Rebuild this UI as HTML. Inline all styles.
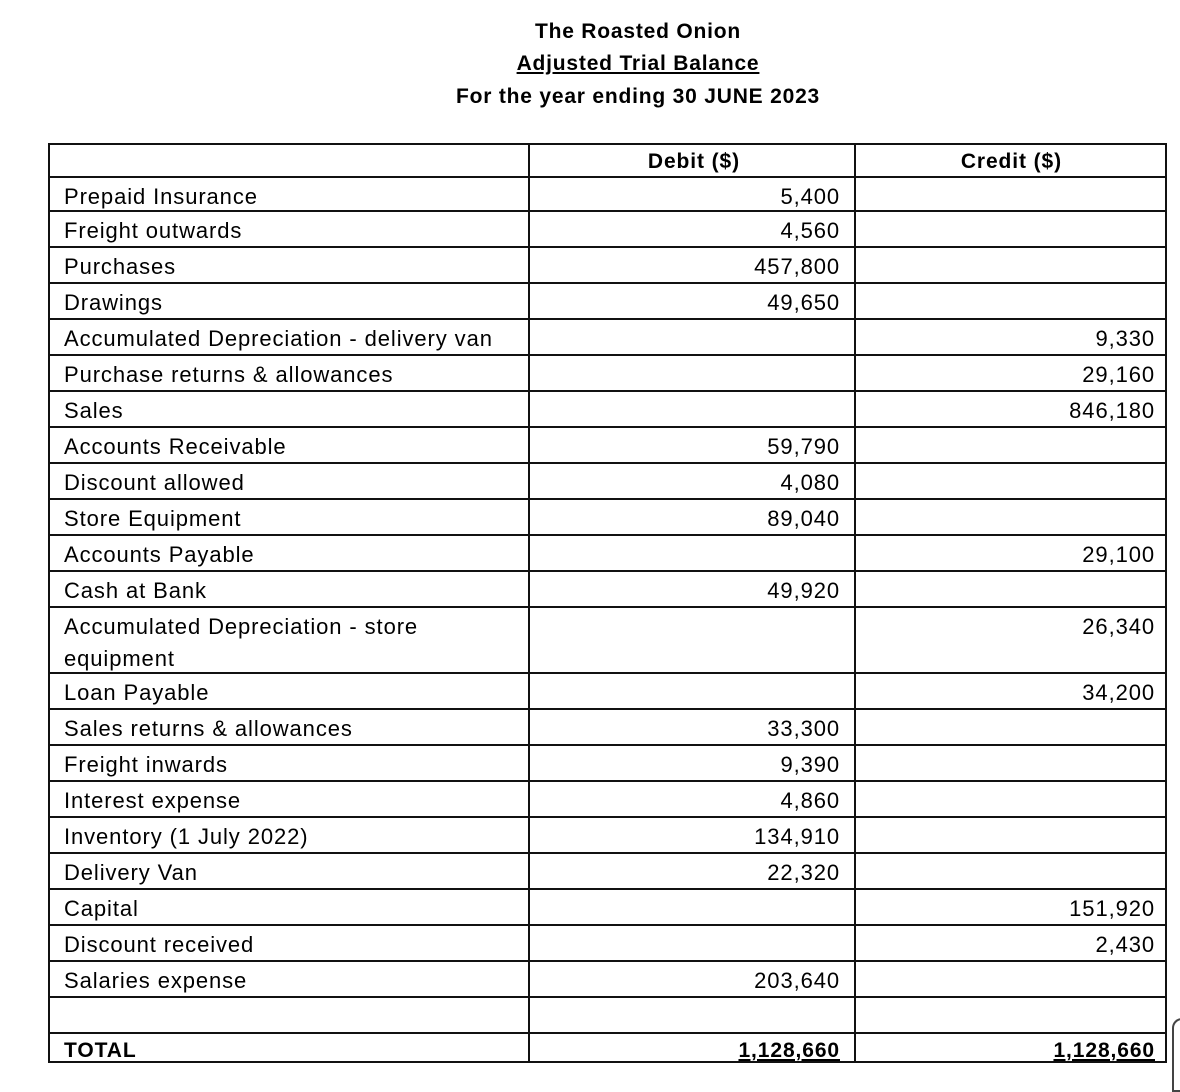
<!DOCTYPE html>
<html><head><meta charset="utf-8"><style>
body{margin:0;width:1180px;height:1086px;background:#fff;position:relative;overflow:hidden;font-family:"Liberation Sans",sans-serif;color:#000}
.t{position:absolute;left:0;width:1276px;text-align:center;font-weight:bold;font-size:21px;line-height:32px;letter-spacing:0.8px}
.h{position:absolute;height:2px;background:#111;left:48px;width:1119px}
.v{position:absolute;width:2px;background:#111;top:143px;height:920px}
.l,.d,.c{position:absolute;font-size:22px;line-height:32px;letter-spacing:0.9px;white-space:nowrap}
.l{left:64px}
.d{right:340px;text-align:right}
.c{right:25px;text-align:right}
</style></head><body>
<div class="t" style="top:16px">The Roasted Onion</div>
<div class="t" style="top:48px"><u>Adjusted Trial Balance</u></div>
<div class="t" style="top:81px">For the year ending 30 JUNE 2023</div>

<div class="h" style="top:143px"></div>
<div class="h" style="top:176px"></div>
<div class="h" style="top:210px"></div>
<div class="h" style="top:246px"></div>
<div class="h" style="top:282px"></div>
<div class="h" style="top:318px"></div>
<div class="h" style="top:354px"></div>
<div class="h" style="top:390px"></div>
<div class="h" style="top:426px"></div>
<div class="h" style="top:462px"></div>
<div class="h" style="top:498px"></div>
<div class="h" style="top:534px"></div>
<div class="h" style="top:570px"></div>
<div class="h" style="top:606px"></div>
<div class="h" style="top:672px"></div>
<div class="h" style="top:708px"></div>
<div class="h" style="top:744px"></div>
<div class="h" style="top:780px"></div>
<div class="h" style="top:816px"></div>
<div class="h" style="top:852px"></div>
<div class="h" style="top:888px"></div>
<div class="h" style="top:924px"></div>
<div class="h" style="top:960px"></div>
<div class="h" style="top:996px"></div>
<div class="h" style="top:1032px"></div>
<div class="h" style="top:1061px"></div>
<div class="v" style="left:48px"></div>
<div class="v" style="left:528px"></div>
<div class="v" style="left:854px"></div>
<div class="v" style="left:1165px"></div>

<div class="d" style="top:146px;right:440px;font-weight:bold;font-size:21px">Debit ($)</div>
<div class="c" style="top:146px;right:118px;font-weight:bold;font-size:21px">Credit ($)</div>

<div class="l" style="top:181px">Prepaid Insurance</div><div class="d" style="top:181px">5,400</div>
<div class="l" style="top:215px">Freight outwards</div><div class="d" style="top:215px">4,560</div>
<div class="l" style="top:251px">Purchases</div><div class="d" style="top:251px">457,800</div>
<div class="l" style="top:287px">Drawings</div><div class="d" style="top:287px">49,650</div>
<div class="l" style="top:323px">Accumulated Depreciation - delivery van</div><div class="c" style="top:323px">9,330</div>
<div class="l" style="top:359px">Purchase returns &amp; allowances</div><div class="c" style="top:359px">29,160</div>
<div class="l" style="top:395px">Sales</div><div class="c" style="top:395px">846,180</div>
<div class="l" style="top:431px">Accounts Receivable</div><div class="d" style="top:431px">59,790</div>
<div class="l" style="top:467px">Discount allowed</div><div class="d" style="top:467px">4,080</div>
<div class="l" style="top:503px">Store Equipment</div><div class="d" style="top:503px">89,040</div>
<div class="l" style="top:539px">Accounts Payable</div><div class="c" style="top:539px">29,100</div>
<div class="l" style="top:575px">Cash at Bank</div><div class="d" style="top:575px">49,920</div>
<div class="l" style="top:611px">Accumulated Depreciation - store<br>equipment</div><div class="c" style="top:611px">26,340</div>
<div class="l" style="top:677px">Loan Payable</div><div class="c" style="top:677px">34,200</div>
<div class="l" style="top:713px">Sales returns &amp; allowances</div><div class="d" style="top:713px">33,300</div>
<div class="l" style="top:749px">Freight inwards</div><div class="d" style="top:749px">9,390</div>
<div class="l" style="top:785px">Interest expense</div><div class="d" style="top:785px">4,860</div>
<div class="l" style="top:821px">Inventory (1 July 2022)</div><div class="d" style="top:821px">134,910</div>
<div class="l" style="top:857px">Delivery Van</div><div class="d" style="top:857px">22,320</div>
<div class="l" style="top:893px">Capital</div><div class="c" style="top:893px">151,920</div>
<div class="l" style="top:929px">Discount received</div><div class="c" style="top:929px">2,430</div>
<div class="l" style="top:965px">Salaries expense</div><div class="d" style="top:965px">203,640</div>
<div class="l" style="top:1035px;font-weight:bold;font-size:21px">TOTAL</div>
<div class="d" style="top:1035px;font-weight:bold;font-size:21px;text-decoration:underline">1,128,660</div>
<div class="c" style="top:1035px;font-weight:bold;font-size:21px;text-decoration:underline">1,128,660</div>
<div style="position:absolute;left:1172px;top:1018px;width:14px;height:70px;border:2px solid #444;border-right:none;border-radius:10px 0 0 0"></div>
</body></html>
